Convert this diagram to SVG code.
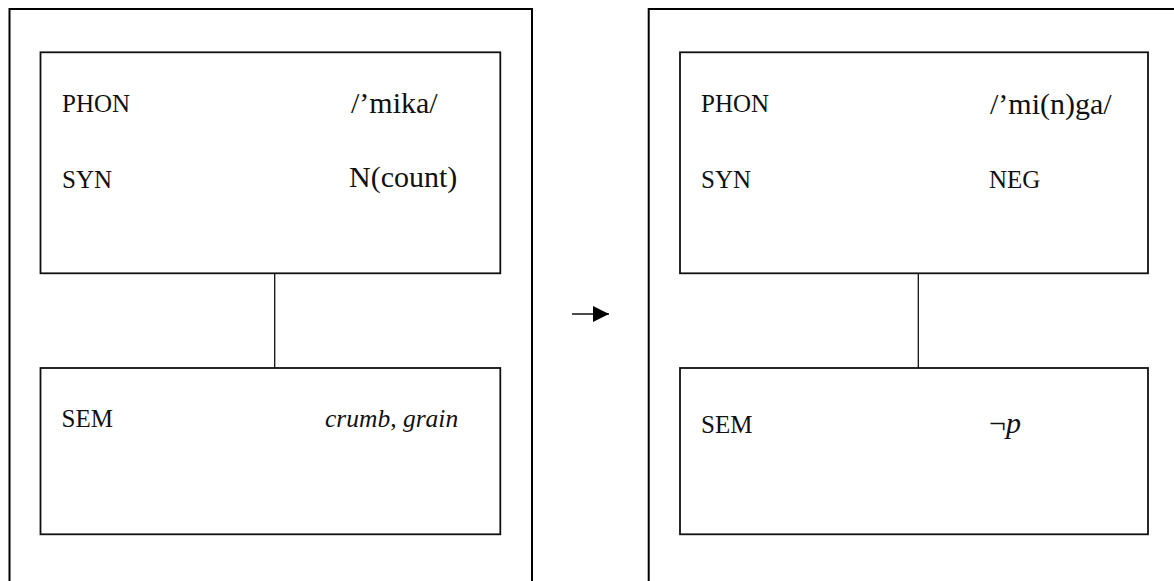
<svg xmlns="http://www.w3.org/2000/svg" width="1174" height="581" viewBox="0 0 1174 581">
  <defs>
    <marker id="arrowhead" viewBox="0 0 16 16" refX="16" refY="8" markerWidth="16" markerHeight="16" markerUnits="userSpaceOnUse" orient="auto">
      <path d="M0,0 L16,8 L0,16 Z" fill="#000"/>
    </marker>
    <style>
      .frame { fill: none; stroke: #000; stroke-width: 2; }
      .box { fill: #fff; stroke: #111; stroke-width: 1.8; }
      .link { stroke: #111; stroke-width: 1.3; fill: none; }
      .t { font-family: 'Liberation Serif', 'DejaVu Serif', serif; fill: #111; }
      .label { font-size: 25px; }
      .value { font-size: 30px; }
      .ital { font-size: 25.5px; font-style: italic; }
    </style>
  </defs>

  <!-- white page -->
  <rect x="0" y="0" width="1174" height="581" fill="#fff"/>

  <!-- outer frames (bottom and far right run off the page) -->
  <rect id="frame-source" class="frame" x="9.5" y="9" width="522.5" height="600"/>
  <rect id="frame-target" class="frame" x="648.7" y="9" width="600" height="600"/>

  <!-- connectors -->
  <g id="connectors">
    <line class="link" x1="274.7" y1="273.3" x2="274.7" y2="368"/>
    <line class="link" x1="918.3" y1="273.3" x2="918.3" y2="368"/>
    <line class="link" x1="572" y1="314" x2="609" y2="314" marker-end="url(#arrowhead)"/>
  </g>

  <!-- source: form box -->
  <g id="mika-form">
    <rect class="box" x="40.5" y="52.3" width="459.8" height="221"/>
    <text class="t label" x="62" y="112.3">PHON</text>
    <text class="t value" x="351" y="113">/’mika/</text>
    <text class="t label" x="62" y="188.3">SYN</text>
    <text class="t value" x="349" y="187.3">N(count)</text>
  </g>

  <!-- source: meaning box -->
  <g id="mika-meaning">
    <rect class="box" x="40.5" y="368" width="459.8" height="166.3"/>
    <text class="t label" x="61.5" y="427.3">SEM</text>
    <text class="t ital" x="325" y="427">crumb<tspan font-style="normal">,</tspan> grain</text>
  </g>

  <!-- target: form box -->
  <g id="minga-form">
    <rect class="box" x="680" y="52.3" width="468" height="221"/>
    <text class="t label" x="701" y="112.3">PHON</text>
    <text class="t value" x="990" y="113.5">/’mi(n)ga/</text>
    <text class="t label" x="701" y="188.3">SYN</text>
    <text class="t label" x="989" y="188.3">NEG</text>
  </g>

  <!-- target: meaning box -->
  <g id="minga-meaning">
    <rect class="box" x="680" y="368" width="468" height="166.3"/>
    <text class="t label" x="701" y="433.3">SEM</text>
    <text class="t value" x="989" y="433">¬<tspan font-style="italic">p</tspan></text>
  </g>
</svg>
